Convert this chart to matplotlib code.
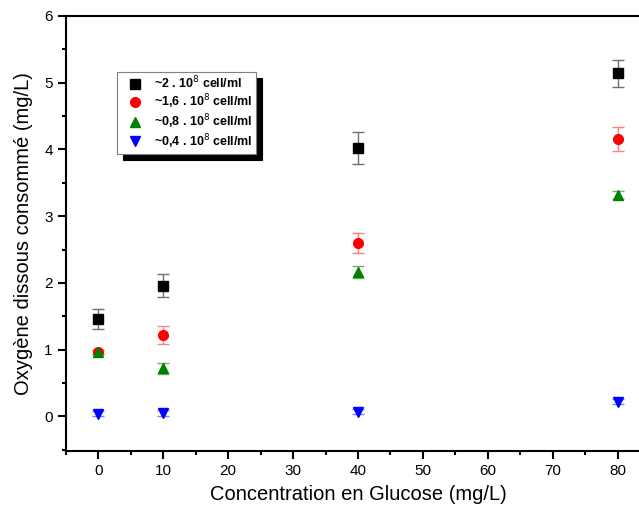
import matplotlib.pyplot as plt
from matplotlib.ticker import MultipleLocator

plt.rcParams['font.family'] = ['Liberation Sans', 'DejaVu Sans']

# concentrations en glucose (mg/L)
glucose = [0, 10, 40, 80]

# oxygene consomme (mg/L) + barres d'erreur
o2_2 = [1.46, 1.96, 4.02, 5.14]
err_2 = [0.15, 0.17, 0.24, 0.20]
o2_16 = [0.96, 1.22, 2.60, 4.15]
err_16 = [0.03, 0.13, 0.15, 0.18]
o2_08 = [0.97, 0.72, 2.17, 3.31]
err_08 = [0.03, 0.08, 0.09, 0.06]
o2_04 = [0.04, 0.05, 0.07, 0.22]
err_04 = [0.04, 0.04, 0.04, 0.04]

labels = [r'~2 . 10$^8$ cell/ml', r'~1,6 . 10$^8$ cell/ml',
          r'~0,8 . 10$^8$ cell/ml', r'~0,4 . 10$^8$ cell/ml']

fig = plt.figure(figsize=(6.39, 5.08), dpi=100)
ax = fig.add_axes([66 / 639, 1 - 451 / 508, 584 / 639, 435 / 508])

ax.errorbar(glucose, o2_2, yerr=err_2, fmt='s', color='black', ms=6.5,
            ecolor='#707070', elinewidth=1, capsize=4, label=labels[0])
ax.errorbar(glucose, o2_16, yerr=err_16, fmt='o', color='red', ms=7,
            ecolor='#ff8080', elinewidth=1, capsize=4, label=labels[1])
ax.errorbar(glucose, o2_08, yerr=err_08, fmt='^', color='green', ms=7,
            ecolor='#70b070', elinewidth=1, capsize=4, label=labels[2])
ax.errorbar(glucose, o2_04, yerr=err_04, fmt='v', color='blue', ms=7,
            ecolor='#8080ff', elinewidth=1, capsize=4, label=labels[3])

ax.set_xlim(-5, 85)
ax.set_ylim(-0.52, 6)
ax.xaxis.set_major_locator(MultipleLocator(10))
ax.xaxis.set_minor_locator(MultipleLocator(5))
ax.yaxis.set_major_locator(MultipleLocator(1))
ax.yaxis.set_minor_locator(MultipleLocator(0.5))
ax.tick_params(which='major', direction='out', length=5.5, width=1.5,
               labelsize=11, pad=4)
ax.tick_params(which='minor', direction='out', length=3, width=1.5)
ax.tick_params(top=False, right=False, which='both')
for s in ax.spines.values():
    s.set_linewidth(1.5)

ax.set_xlabel('Concentration en Glucose (mg/L)', fontsize=14.5, labelpad=5)
ax.set_ylabel('Oxygène dissous consommé (mg/L)', fontsize=14.5, labelpad=8)

handles, lbls = ax.get_legend_handles_labels()
handles = [h[0] for h in handles]
leg = ax.legend(handles, lbls, loc='upper left',
                bbox_to_anchor=(117 / 639, 1 - 72 / 508),
                bbox_transform=fig.transFigure, borderaxespad=0,
                fancybox=False, edgecolor='#808080', framealpha=1,
                prop={'weight': 'bold', 'size': 9}, handletextpad=0.35,
                handlelength=2.4, borderpad=0.25,
                labelspacing=0.08, markerscale=1.0,
                shadow={'ox': 4.5, 'oy': -4.5, 'facecolor': 'black',
                        'edgecolor': 'black', 'alpha': 1})
leg.get_frame().set_linewidth(0.8)

fig.savefig('out.png', dpi=100)
